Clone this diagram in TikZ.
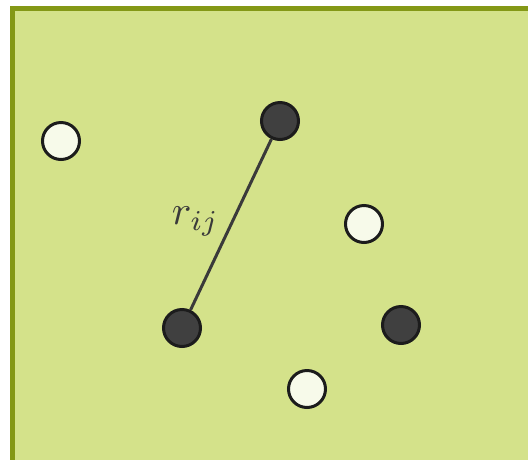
\documentclass[tikz,border=0pt]{standalone}
\begin{document}
\begin{tikzpicture}[x=1pt,y=-1pt,
  whiteball/.style={circle,draw=ballstroke,line width=3pt,fill=ballwhite,minimum size=37pt,inner sep=0pt},
  darkball/.style={circle,draw=ballstroke,line width=3pt,fill=balldark,minimum size=37pt,inner sep=0pt},
  bond/.style={draw=bondcol,line width=3pt}]
\definecolor{bgfill}{RGB}{212,226,138}
\definecolor{bgborder}{RGB}{132,152,22}
\definecolor{ballstroke}{RGB}{28,28,28}
\definecolor{ballwhite}{RGB}{247,250,234}
\definecolor{balldark}{RGB}{64,64,64}
\definecolor{bondcol}{RGB}{58,58,58}
\useasboundingbox (0,0) rectangle (528,459);
\clip (0,0) rectangle (528,459);
\draw[fill=bgfill,draw=bgborder,line width=5pt] (12.5,8.5) rectangle (545,480);
\node[whiteball] (w1) at (61,141) {};
\node[darkball] (d1) at (280,121) {};
\node[whiteball] (w2) at (364,224) {};
\node[darkball] (d2) at (182,328) {};
\node[darkball] (d3) at (401,325) {};
\node[whiteball] (w3) at (307,389) {};
\draw[bond] (d2) -- (d1);
\node[text=bondcol,scale=4.1,transform shape,inner sep=0pt,anchor=base west] (lbl) at (171,224) {$r_{ij}$};
\end{tikzpicture}
\end{document}
